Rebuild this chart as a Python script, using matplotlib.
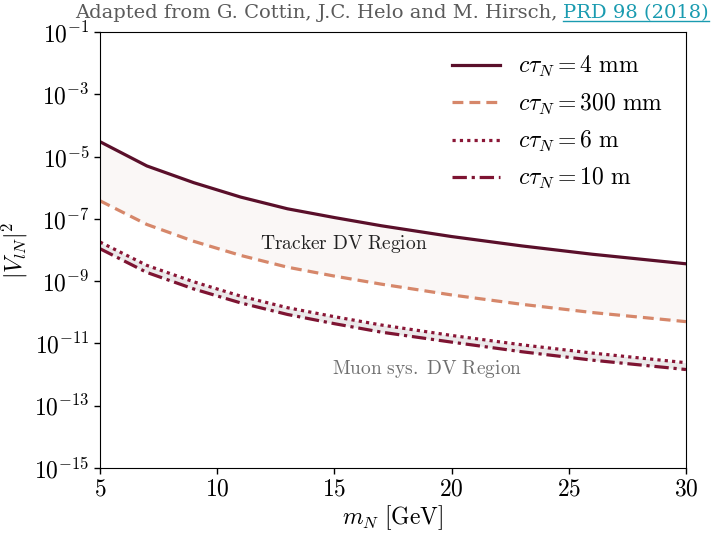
#!/usr/bin/env python
"""Recreate the HNL long-lived mixing reach plot (tracker / muon DV regions)."""

import matplotlib

matplotlib.use("Agg")

import matplotlib.pyplot as plt
from matplotlib.ticker import NullLocator

# values
mass_gev = [5, 7, 9, 11, 13, 15, 17, 20, 23, 26, 30]
v2_4mm = [3.0e-5, 5.0e-6, 1.45e-6, 5.0e-7, 2.1e-7, 1.1e-7, 6.0e-8, 2.7e-8, 1.35e-8, 7.3e-9, 3.6e-9]
v2_300mm = [3.8e-7, 6.6e-8, 1.9e-8, 6.7e-9, 2.8e-9, 1.45e-9, 8.0e-10, 3.6e-10, 1.8e-10, 9.8e-11, 5.0e-11]
v2_6m = [1.8e-8, 3.2e-9, 9.5e-10, 3.3e-10, 1.4e-10, 7.2e-11, 3.9e-11, 1.8e-11, 9.0e-12, 4.9e-12, 2.4e-12]
v2_10m = [1.1e-8, 1.9e-9, 5.6e-10, 2.0e-10, 8.5e-11, 4.3e-11, 2.3e-11, 1.1e-11, 5.4e-12, 2.9e-12, 1.45e-12]

y_ticks = [1e-1, 1e-3, 1e-5, 1e-7, 1e-9, 1e-11, 1e-13, 1e-15]
x_ticks = [5, 10, 15, 20, 25, 30]

plt.rcParams["font.family"] = "serif"
plt.rcParams["font.serif"] = ["cmr10"]
plt.rcParams["mathtext.fontset"] = "cm"
plt.rcParams["axes.formatter.use_mathtext"] = True

fig = plt.figure(figsize=(7.11, 5.33), dpi=100)
ax = fig.add_axes([0.1406, 0.122, 0.8242, 0.818])

ax.fill_between(mass_gev, v2_300mm, v2_4mm, color="#faf7f6", lw=0)
ax.fill_between(mass_gev, v2_10m, v2_6m, color="#ebe9ea", lw=0)

ax.plot(mass_gev, v2_4mm, color="#5a0f2a", lw=2.3, ls="-",
        label=r"$c\tau_N = 4\ \mathrm{mm}$")
ax.plot(mass_gev, v2_300mm, color="#d6876a", lw=2.3, ls=(0, (3.4, 1.9)),
        label=r"$c\tau_N = 300\ \mathrm{mm}$")
ax.plot(mass_gev, v2_6m, color="#8a1636", lw=2.3, ls=(0, (1, 1.3)),
        label=r"$c\tau_N = 6\ \mathrm{m}$")
ax.plot(mass_gev, v2_10m, color="#7e1432", lw=2.3, ls=(0, (4.5, 1.5, 1, 1.5)),
        label=r"$c\tau_N = 10\ \mathrm{m}$")

ax.set_yscale("log")
ax.set_xlim(5, 30)
ax.set_ylim(1e-15, 1e-1)
ax.set_yticks(y_ticks)
ax.set_xticks(x_ticks)
ax.yaxis.set_minor_locator(NullLocator())
ax.tick_params(axis="both", which="major", direction="out", length=4, width=1, labelsize=17)

ax.set_xlabel(r"$m_N\ [\mathrm{GeV}]$", fontsize=17, labelpad=2)
ax.set_ylabel(r"$|V_{lN}|^2$", fontsize=17)
ax.yaxis.set_label_coords(-0.12, 0.5)

ax.text(15.4, 1.55e-8, r"$\mathrm{Tracker\ DV\ Region}$", fontsize=14,
        color="#222222", ha="center", va="center")
ax.text(18.97, 1.5e-12, r"$\mathrm{Muon\ sys.\ DV\ Region}$", fontsize=14,
        color="#707070", ha="center", va="center")

ax.legend(loc="upper right", frameon=False, fontsize=17, handlelength=2.0,
          labelspacing=0.52, handletextpad=0.8, borderaxespad=0.55)

title = fig.text(0.105, 0.976, "Adapted from G. Cottin, J.C. Helo and M. Hirsch, ",
                 fontsize=14, color="#5a5a5a", family="DejaVu Serif",
                 va="center", ha="left")
fig.canvas.draw()
tb = title.get_window_extent()
link = fig.text(tb.x1 / fig.bbox.width, 0.976, "PRD 98 (2018)", fontsize=14,
                color="#1a9bb0", family="DejaVu Serif", va="center", ha="left")
fig.canvas.draw()
bb = link.get_window_extent()
fig.add_artist(plt.Line2D([bb.x0, bb.x1], [bb.y0 + 1, bb.y0 + 1], transform=None,
                          color="#1a9bb0", lw=1))

fig.savefig("out.png", dpi=100)
